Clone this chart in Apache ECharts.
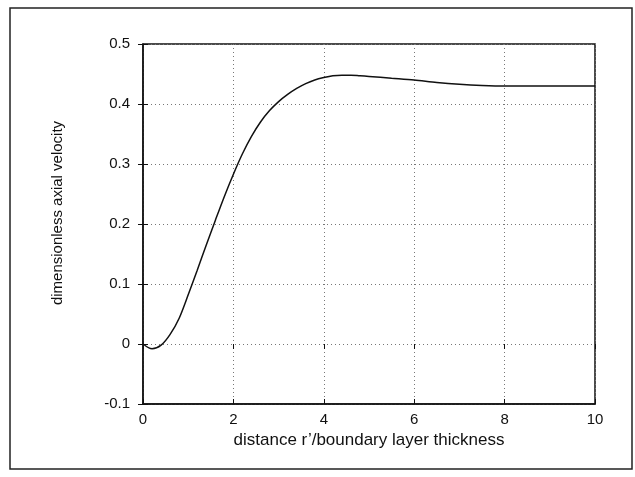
<!DOCTYPE html>
<html>
<head>
<meta charset="utf-8">
<script src="https://cdn.jsdelivr.net/npm/echarts@6/dist/echarts.min.js"></script>
<style>html,body{margin:0;padding:0;background:#fff}#c{width:635px;height:477px}</style>
</head>
<body>
<div id="c"></div>
<script>
var xValues = [0, 0.2, 0.4, 0.6, 0.8, 1.0, 1.2, 1.4, 1.6, 1.8, 2.0, 2.2, 2.4, 2.6, 2.8, 3.0, 3.2, 3.4, 3.6, 3.8, 4.0, 4.2, 4.4, 4.6, 4.8, 5.0, 5.5, 6.0, 6.5, 7.0, 7.5, 8.0, 8.5, 9.0, 9.5, 10.0];
var velocity = [0, -0.008, -0.002, 0.016, 0.043, 0.082, 0.123, 0.165, 0.206, 0.246, 0.283, 0.317, 0.346, 0.37, 0.389, 0.404, 0.416, 0.426, 0.434, 0.44, 0.444, 0.447, 0.448, 0.448, 0.447, 0.446, 0.443, 0.44, 0.436, 0.433, 0.431, 0.43, 0.43, 0.43, 0.43, 0.43];
var xTicks = [0, 2, 4, 6, 8, 10];
var yTicks = [-0.1, 0, 0.1, 0.2, 0.3, 0.4, 0.5];
var xTitle = "distance r\u2019/boundary layer thickness";
var yTitle = "dimensionless axial velocity";

var pts = xValues.map(function (x, i) { return [x, velocity[i]]; });
var font = "'Liberation Sans', Arial, sans-serif";
var chart = echarts.init(document.getElementById('c'));
chart.setOption({
  animation: false,
  backgroundColor: '#fff',
  graphic: [{
    type: 'rect', shape: { x: 10, y: 8, width: 622, height: 461 },
    style: { fill: 'none', stroke: '#222', lineWidth: 1.5 }, silent: true
  }, {
    type: 'text', x: 58, y: 213, rotation: Math.PI / 2,
    style: { text: yTitle, font: '15px ' + font, fill: '#111', align: 'center', verticalAlign: 'middle' },
    silent: true
  }],
  grid: { left: 143, right: 40, top: 44, bottom: 73, show: true, borderColor: '#111', borderWidth: 1.5, backgroundColor: 'transparent' },
  xAxis: [{
    type: 'value', min: xTicks[0], max: xTicks[xTicks.length - 1], interval: 2,
    name: xTitle, nameLocation: 'middle', nameGap: 26,
    nameTextStyle: { fontFamily: font, fontSize: 17, color: '#111' },
    axisLine: { show: true, onZero: false, lineStyle: { color: '#111', width: 1.5 } },
    axisTick: { show: true, inside: true, length: 5, lineStyle: { color: '#111' } },
    axisLabel: { fontFamily: font, fontSize: 15, color: '#111', margin: 8 },
    splitLine: { show: true, lineStyle: { color: '#777', type: [1, 3], width: 1 } }
  }, {
    type: 'value', position: 'top', min: 0, max: 10, interval: 2,
    axisLine: { show: false }, axisLabel: { show: false }, splitLine: { show: false },
    axisTick: { show: true, inside: true, length: 5, lineStyle: { color: '#111' } }
  }],
  yAxis: [{
    type: 'value', min: yTicks[0], max: yTicks[yTicks.length - 1], interval: 0.1,
    axisLine: { show: true, onZero: false, lineStyle: { color: '#111', width: 1.5 } },
    axisTick: { show: true, inside: true, length: 5, lineStyle: { color: '#111' } },
    axisLabel: { fontFamily: font, fontSize: 15, color: '#111', margin: 13,
      formatter: function (v) { return String(Math.round(v * 10) / 10); } },
    splitLine: { show: true, lineStyle: { color: '#777', type: [1, 3], width: 1 } }
  }, {
    type: 'value', position: 'right', min: -0.1, max: 0.5, interval: 0.1,
    axisLine: { show: false }, axisLabel: { show: false }, splitLine: { show: false },
    axisTick: { show: true, inside: true, length: 5, lineStyle: { color: '#111' } }
  }],
  series: [{
    type: 'line', data: pts, smooth: 0.3, showSymbol: false,
    xAxisIndex: 0, yAxisIndex: 0,
    lineStyle: { color: '#111', width: 1.5 }
  }]
});
</script>
</body>
</html>
